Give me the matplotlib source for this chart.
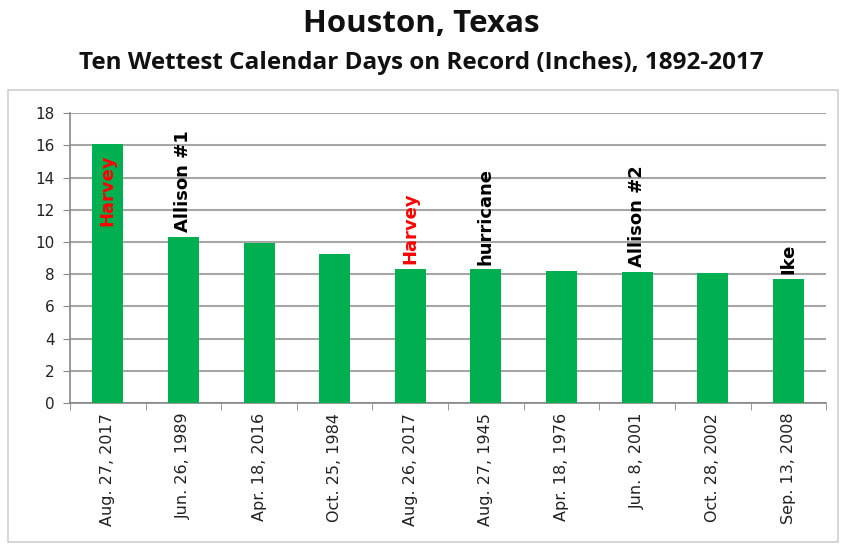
import matplotlib.pyplot as plt
from matplotlib.patches import Rectangle

# data
dates = ['Aug. 27, 2017', 'Jun. 26, 1989', 'Apr. 18, 2016', 'Oct. 25, 1984',
         'Aug. 26, 2017', 'Aug. 27, 1945', 'Apr. 18, 1976', 'Jun. 8, 2001',
         'Oct. 28, 2002', 'Sep. 13, 2008']
rain = [16.07, 10.34, 9.96, 9.25, 8.35, 8.30, 8.20, 8.16, 8.10, 7.72]
storms = ['Harvey', 'Allison #1', '', '', 'Harvey', 'hurricane', '', 'Allison #2', '', 'Ike']
storm_colors = ['red', 'black', 'black', 'black', 'red', 'black', 'black', 'black', 'black', 'black']

fig = plt.figure(figsize=(8.43, 5.44), dpi=100)
ax = fig.add_axes([0.083, 0.259, 0.897, 0.533])

# light frame around the chart area, like the excel chart box
fig.patches.append(Rectangle((8 / 843, 2 / 544), 830 / 843, 452 / 544,
                             transform=fig.transFigure, fill=False,
                             edgecolor='#d0d0d0', linewidth=1.2))

x = range(len(dates))
ax.bar(x, rain, width=0.41, color='#00b050', zorder=3)

ax.set_ylim(0, 18)
ax.set_yticks(range(0, 19, 2))
ax.set_xlim(-0.5, len(dates) - 0.5)
ax.set_xticks(list(x))
ax.set_xticklabels(dates, rotation=90, fontsize=11.5, color='#222222')
ax.set_xticks([i - 0.5 for i in range(len(dates) + 1)], minor=True)
ax.tick_params(axis='x', which='major', length=0, pad=7)
ax.tick_params(axis='x', which='minor', length=5, color='#888888')
ax.tick_params(axis='y', length=5, color='#888888', labelsize=11, labelcolor='#222222', pad=6)

ax.grid(axis='y', color='#a6a6a6', linewidth=1.5, zorder=0)
for s in ['top', 'right']:
    ax.spines[s].set_visible(False)
for s in ['left', 'bottom']:
    ax.spines[s].set_color('#888888')
    ax.spines[s].set_linewidth(1.2)

for i, (name, val, c) in enumerate(zip(storms, rain, storm_colors)):
    if not name:
        continue
    if i == 0:
        ax.text(i, val - 0.6, name, rotation=90, ha='center', va='top',
                color=c, fontsize=13, fontweight='bold', zorder=4)
    else:
        ax.text(i, val + 0.3, name, rotation=90, ha='center', va='bottom',
                color=c, fontsize=13, fontweight='bold', zorder=4)

fig.text(0.5, 0.941, 'Houston, Texas', ha='center', va='baseline',
         fontsize=22.5, fontweight='bold', family='Open Sans', color='#111111')
fig.text(0.5, 0.873, 'Ten Wettest Calendar Days on Record (Inches), 1892-2017',
         ha='center', va='baseline', fontsize=17.5, fontweight='bold',
         family='Open Sans', color='#111111')

fig.savefig('out.png', dpi=100)
